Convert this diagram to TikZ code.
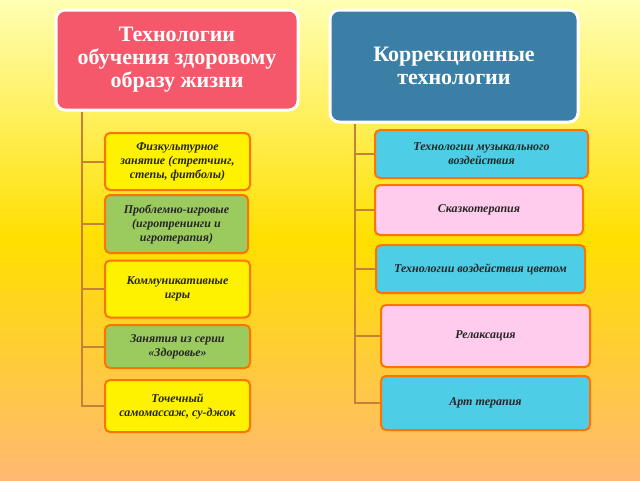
\documentclass[tikz,border=0pt]{standalone}
\usepackage{fontspec}
\setmainfont{Liberation Serif}
\begin{document}
\begin{tikzpicture}[x=1pt,y=-1pt,
  hdr/.style={draw=white,line width=3pt,rounded corners=9pt,text=white,font=\bfseries\fontsize{22}{23}\selectfont,align=center},
  bx/.style={draw=orange!90!red,line width=2pt,rounded corners=5pt,align=center,font=\bfseries\itshape\fontsize{12}{14}\selectfont,text=black!85},
  ln/.style={draw=brown!90!orange,line width=2pt}]
\shade[top color=yellow!30!white,bottom color=orange!55!white,middle color=yellow!75!orange] (0,0) rectangle (640,480);
\useasboundingbox (0,0) rectangle (640,480);
\definecolor{hred}{HTML}{F4586A}\definecolor{hblue}{HTML}{3B7FA6}
\definecolor{cy}{HTML}{FFF200}\definecolor{cg}{HTML}{9BCB5E}
\definecolor{cb}{HTML}{4DCDE6}\definecolor{cp}{HTML}{FFCCEE}
\node[hdr,fill=hred,minimum width=242,minimum height=100] (h1) at (177,60) {Технологии\\обучения здоровому\\образу жизни};
\node[hdr,fill=hblue,minimum width=248,minimum height=112] (h2) at (454,66) {Коррекционные\\технологии};
\node[bx,fill=cy,minimum width=145,minimum height=57] (a1) at (177.5,161.5) {Физкультурное\\занятие (стретчинг,\\степы, фитболы)};
\node[bx,fill=cg,minimum width=143,minimum height=58] (a2) at (176.5,224) {Проблемно-игровые\\(игротренинги и\\игротерапия)};
\node[bx,fill=cy,minimum width=145,minimum height=57] (a3) at (177.5,289) {Коммуникативные\\игры};
\node[bx,fill=cg,minimum width=145,minimum height=43] (a4) at (177.5,346.5) {Занятия из серии\\«Здоровье»};
\node[bx,fill=cy,minimum width=145,minimum height=52] (a5) at (177.5,406) {Точечный\\самомассаж, су-джок};
\node[bx,fill=cb,minimum width=213,minimum height=48] (b1) at (481.5,154) {Технологии музыкального\\воздействия};
\node[bx,fill=cp,minimum width=208,minimum height=50] (b2) at (479,210) {Сказкотерапия};
\node[bx,fill=cb,minimum width=209,minimum height=48] (b3) at (480.5,269) {Технологии воздействия цветом};
\node[bx,fill=cp,minimum width=209,minimum height=62] (b4) at (485.5,336) {Релаксация};
\node[bx,fill=cb,minimum width=209,minimum height=54] (b5) at (485.5,403) {Арт терапия};
\path (h1.south) ++(-95,0) coordinate (lt);
\path (h2.south) ++(-99,0) coordinate (rt);
\draw[ln] (lt) |- (a5.west);
\foreach \n in {a1,a2,a3,a4} \draw[ln] (lt|-\n.west) -- (\n.west);
\draw[ln] (rt) |- (b5.west);
\foreach \n in {b1,b2,b3,b4} \draw[ln] (rt|-\n.west) -- (\n.west);
\end{tikzpicture}
\end{document}
